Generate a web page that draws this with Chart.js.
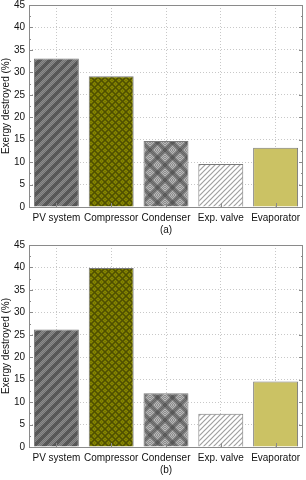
<!DOCTYPE html>
<html>
<head>
<meta charset="utf-8">
<script src="https://cdn.jsdelivr.net/npm/chart.js@4"></script>
<style>
  body { margin: 0; background: #fff; }
  canvas { display: block; }
</style>
</head>
<body>
<canvas id="chartA" width="306" height="240"></canvas>
<canvas id="chartB" width="306" height="240"></canvas>
<script>
const categories = ["PV system", "Compressor", "Condenser", "Exp. valve", "Evaporator"];
const valuesA = [33.1, 29.1, 14.7, 9.6, 13.2];
const valuesB = [26.2, 39.9, 12.0, 7.4, 14.6];
const yMax = 45;
const yStep = 5;
const titles = ["(a)", "(b)"];

const FONT = "'Liberation Sans', Arial, sans-serif";

// small helper to build a repeating fill pattern
function makePattern(size, draw) {
  const c = document.createElement("canvas");
  c.width = size;
  c.height = size;
  const g = c.getContext("2d");
  draw(g, size);
  return g.createPattern(c, "repeat");
}

function checker(g, s, a, b) {
  for (let y = 0; y < s; y++) {
    for (let x = 0; x < s; x++) {
      g.fillStyle = (x + y) % 2 ? a : b;
      g.fillRect(x, y, 1, 1);
    }
  }
}

function slash(g, s) {
  g.beginPath();
  g.moveTo(0, s); g.lineTo(s, 0);
  g.moveTo(-s / 2, s / 2); g.lineTo(s / 2, -s / 2);
  g.moveTo(s / 2, s * 1.5); g.lineTo(s * 1.5, s / 2);
  g.stroke();
}

function backslash(g, s) {
  g.beginPath();
  g.moveTo(0, 0); g.lineTo(s, s);
  g.moveTo(s / 2, -s / 2); g.lineTo(s * 1.5, s / 2);
  g.moveTo(-s / 2, s / 2); g.lineTo(s / 2, s * 1.5);
  g.stroke();
}

function buildFills() {
  const pv = makePattern(10, (g, s) => {
    checker(g, s, "#747474", "#8c8c8c");
    g.strokeStyle = "rgba(60,60,60,0.6)";
    g.lineWidth = 3.5;
    slash(g, s);
  });
  const comp = makePattern(7, (g, s) => {
    checker(g, s, "#767600", "#868600");
    g.strokeStyle = "#4f4f00";
    g.lineWidth = 1.3;
    slash(g, s);
    backslash(g, s);
  });
  const cond = makePattern(15, (g, s) => {
    checker(g, s, "#8c8c8c", "#b8b8b8");
    g.strokeStyle = "rgba(70,70,70,0.55)";
    g.lineWidth = 3.5;
    slash(g, s);
    backslash(g, s);
  });
  const valve = makePattern(5, (g, s) => {
    g.fillStyle = "#ffffff";
    g.fillRect(0, 0, s, s);
    g.strokeStyle = "#a0a0a0";
    g.lineWidth = 1.2;
    slash(g, s);
  });
  return [pv, comp, cond, valve, "#cbc264"];
}

// frame and inner tick marks like the original plot
const framePlugin = {
  id: "frame",
  afterDraw(chart) {
    const ctx = chart.ctx;
    const a = chart.chartArea;
    const y = chart.scales.y;
    const x = chart.scales.x;
    ctx.save();
    ctx.strokeStyle = "#8a8a8a";
    ctx.lineWidth = 1;
    ctx.strokeRect(a.left + 0.5, a.top + 0.5, a.right - a.left - 1, a.bottom - a.top);
    ctx.beginPath();
    for (let v = 0; v <= yMax; v += yStep / 2) {
      const py = Math.round(y.getPixelForValue(v)) + 0.5;
      const len = v % yStep === 0 ? 4 : 2;
      ctx.moveTo(a.left, py); ctx.lineTo(a.left + len, py);
      ctx.moveTo(a.right, py); ctx.lineTo(a.right - len, py);
    }
    categories.forEach((c, i) => {
      const px = Math.round(x.getPixelForValue(i)) + 0.5;
      ctx.moveTo(px, a.bottom); ctx.lineTo(px, a.bottom - 4);
    });
    ctx.stroke();
    ctx.restore();
  }
};

function makeChart(id, values, title) {
  const ctx = document.getElementById(id).getContext("2d");
  return new Chart(ctx, {
    type: "bar",
    data: {
      labels: categories,
      datasets: [{
        data: values,
        backgroundColor: buildFills(),
        borderColor: "#7a7a7a",
        borderWidth: 1,
        barPercentage: 0.82,
        categoryPercentage: 1
      }]
    },
    options: {
      responsive: false,
      animation: false,
      layout: { padding: { top: 5, right: 3, left: 0, bottom: 0 } },
      plugins: { legend: { display: false }, tooltip: { enabled: false } },
      scales: {
        x: {
          grid: { offset: false, color: "#c8c8c8", drawTicks: false },
          border: { display: false, dash: [1, 2] },
          ticks: {
            color: "#111", padding: 5, maxRotation: 0, minRotation: 0, autoSkip: false,
            font: { family: FONT, size: 10 }
          },
          title: {
            display: true, text: title, color: "#111",
            padding: { top: 3, bottom: 4 },
            font: { family: FONT, size: 10 }
          },
          afterFit(scale) { scale.height = 33; }
        },
        y: {
          min: 0,
          max: yMax,
          grid: { color: "#c8c8c8", drawTicks: false },
          border: { display: false, dash: [1, 2] },
          ticks: { stepSize: yStep, color: "#111", padding: 4, font: { family: FONT, size: 10 } },
          title: {
            display: true, text: "Exergy destroyed (%)", color: "#111",
            padding: { top: 1, bottom: 0 },
            font: { family: FONT, size: 10, lineHeight: 1 }
          },
          afterFit(scale) {
            scale.width = 29;
            scale.paddingTop = 0;
            scale.paddingBottom = 0;
          }
        }
      }
    },
    plugins: [framePlugin]
  });
}

makeChart("chartA", valuesA, titles[0]);
makeChart("chartB", valuesB, titles[1]);
</script>
</body>
</html>
